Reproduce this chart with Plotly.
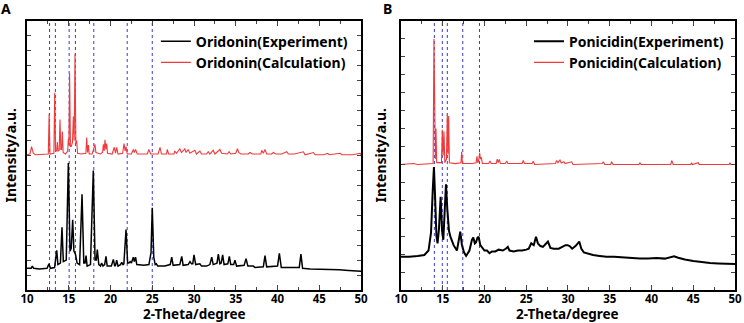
import plotly.graph_objects as go

# ---------------- data ----------------
# Panel A: Oridonin, calculated pattern (offset upward)
ori_calc_x = [10.0, 10.35, 10.55, 10.75, 11.0, 12.0, 12.55, 12.65, 12.75, 13.22, 13.32, 13.42,
              13.55, 13.63, 13.72, 13.86, 13.95, 14.05, 14.15, 14.23, 14.33, 14.6, 14.87, 14.95,
              15.02, 15.1, 15.2, 15.3, 15.45, 15.55, 15.65, 15.75, 15.85, 15.95, 16.05, 16.5,
              17.05, 17.15, 17.25, 17.35, 17.45, 17.8, 18.02, 18.14, 18.25, 18.8, 19.05, 19.14,
              19.24, 19.34, 19.44, 19.54, 19.64, 20.2, 20.45, 20.6, 20.74, 20.9, 21.45, 21.62,
              21.75, 21.86, 22.0, 22.5, 22.73, 22.85, 23.0, 23.2, 24.4, 24.6, 24.8, 25.7, 25.93,
              26.1, 26.7, 26.8, 26.95, 27.6, 27.7, 27.9, 28.3, 28.5, 28.9, 29.05, 29.3, 29.5,
              30.1, 30.3, 30.7, 30.9, 31.5, 31.7, 31.9, 32.3, 32.5, 33.1, 33.3, 34.0, 34.2, 34.4,
              35.0, 35.2, 35.35, 35.6, 36.5, 36.7, 37.0, 38.0, 38.1, 38.3, 38.5, 38.7, 39.3, 39.5,
              39.8, 40.5, 41.1, 41.3, 42.0, 43.1, 43.3, 44.3, 44.5, 45.5, 46.0, 46.2, 47.5, 47.7,
              49.0, 49.9, 50.0]
ori_calc_y = [9.05, 9.1, 9.6, 9.15, 9.05, 9.05, 9.1, 11.8, 9.1, 9.15, 13.2, 9.3,
              9.3, 9.9, 9.3, 9.35, 11.4, 9.4, 9.4, 10.6, 9.2, 9.1, 9.3, 10.1,
              9.7, 14.5, 9.6, 9.6, 9.9, 11.6, 10.0, 15.8, 9.8, 10.0, 9.15, 9.1,
              9.15, 10.2, 9.2, 9.7, 9.1, 9.1, 9.5, 9.75, 9.2, 9.1, 9.2, 9.75,
              9.3, 10.05, 9.4, 9.8, 9.15, 9.1, 9.55, 9.15, 9.55, 9.1, 9.15, 9.8,
              9.3, 9.6, 9.1, 9.1, 9.4, 9.2, 9.4, 9.1, 9.1, 9.4, 9.1, 9.1, 9.55,
              9.1, 9.1, 9.4, 9.1, 9.1, 9.3, 9.15, 9.45, 9.2, 9.45, 9.2, 9.4, 9.15,
              9.35, 9.1, 9.3, 9.1, 9.1, 9.25, 9.1, 9.35, 9.1, 9.4, 9.15, 9.1, 9.25, 9.1,
              9.15, 9.45, 9.2, 9.1, 9.1, 9.2, 9.1, 9.1, 9.35, 9.15, 9.4, 9.1, 9.1, 9.2,
              9.1, 9.1, 9.25, 9.1, 9.1, 9.25, 9.05, 9.2, 9.05, 9.05, 9.15, 9.05, 9.15, 9.05,
              9.05, 9.15, 9.05]

# Panel A: Oridonin, experimental pattern
ori_exp_x = [10.0, 10.5, 10.64, 10.8, 11.5, 12.4, 12.63, 12.8, 13.3, 13.45, 13.56, 13.7, 14.0,
             14.19, 14.35, 14.7, 14.95, 15.15, 15.3, 15.47, 15.62, 15.8, 16.0, 16.3, 16.59, 16.8,
             16.95, 17.07, 17.2, 17.6, 17.94, 18.15, 18.3, 18.42, 18.6, 18.8, 18.94, 19.1, 19.3,
             19.46, 19.6, 20.1, 20.34, 20.5, 20.6, 20.74, 20.9, 21.2, 21.34, 21.5, 21.6, 21.86,
             22.05, 22.2, 22.34, 22.5, 22.62, 22.73, 22.85, 23.0, 23.15, 24.0, 24.6, 24.85, 25.0,
             25.18, 25.35, 25.5, 25.65, 26.5, 27.15, 27.33, 27.5, 28.3, 28.53, 28.7, 29.3, 29.52,
             29.7, 29.85, 30.0, 30.2, 30.7, 30.9, 31.5, 31.9, 32.12, 32.3, 32.75, 32.91, 33.1,
             33.25, 33.43, 33.6, 34.05, 34.23, 34.4, 34.75, 34.9, 35.1, 36.0, 36.23, 36.45, 37.1,
             37.3, 38.3, 38.5, 38.7, 40.0, 40.22, 40.45, 41.4, 42.6, 42.8, 43.0, 43.9, 45.0, 45.4,
             47.4, 48.5, 50.0]
ori_exp_y = [1.45, 1.45, 1.6, 1.45, 1.4, 1.45, 1.75, 1.45, 1.5, 2.0, 2.65, 1.7, 1.8,
             4.2, 1.9, 2.0, 8.5, 2.6, 2.8, 4.7, 2.6, 2.4, 1.8, 1.7, 6.4, 1.8,
             1.8, 2.3, 1.6, 1.7, 8.0, 2.0, 2.0, 2.7, 1.7, 1.6, 1.8, 1.6, 1.7,
             2.25, 1.6, 1.6, 2.05, 1.6, 1.65, 2.0, 1.6, 1.7, 1.85, 1.7, 1.75, 4.05,
             1.8, 1.8, 1.9, 1.8, 2.0, 2.2, 1.9, 2.2, 1.7, 1.65, 1.7, 2.5, 5.5,
             2.2, 1.7, 1.75, 1.6, 1.6, 1.7, 2.2, 1.65, 1.7, 2.25, 1.65, 1.7, 1.9,
             1.75, 1.75, 2.35, 1.7, 1.75, 1.6, 1.6, 1.7, 2.2, 1.7, 1.8, 2.4, 1.75,
             1.8, 2.35, 1.7, 1.75, 2.25, 1.7, 1.7, 2.0, 1.6, 1.65, 2.1, 1.6, 1.6,
             1.5, 1.55, 2.3, 1.55, 1.6, 2.45, 1.5, 1.5, 1.5, 2.4, 1.45, 1.4, 1.4, 1.35,
             1.35, 1.3, 1.25]

# Panel B: Ponicidin, calculated pattern (offset upward)
pon_calc_x = [10.0, 11.0, 11.5, 12.0, 13.85, 13.95, 14.05, 14.12, 14.19, 14.28, 14.85, 14.95,
              15.05, 15.15, 15.25, 15.45, 15.55, 15.63, 15.71, 15.8, 16.5, 17.18, 17.27, 17.36,
              18.5, 19.0, 19.1, 19.2, 19.3, 19.42, 19.52, 19.62, 19.75, 20.5, 20.66, 20.8, 21.4,
              21.53, 21.65, 21.78, 21.9, 22.5, 22.66, 22.8, 24.5, 24.65, 24.8, 25.7, 25.85, 26.0,
              28.5, 28.65, 28.8, 29.04, 29.2, 29.5, 29.65, 30.44, 30.6, 34.1, 34.23, 34.4, 35.1,
              35.23, 35.4, 38.5, 38.6, 38.75, 42.3, 42.42, 42.6, 44.7, 44.8, 44.9, 45.6, 45.7,
              49.3, 49.4, 49.5, 50.0]
pon_calc_y = [7.0, 7.02, 7.05, 7.0, 7.05, 14.0, 7.3, 7.3, 9.0, 7.1, 7.1, 8.93,
              7.5, 8.84, 7.1, 7.3, 9.8, 7.6, 9.7, 7.1, 7.05, 7.1, 7.7, 7.05,
              7.05, 7.1, 7.45, 7.1, 7.2, 7.65, 7.3, 7.4, 7.05, 7.05, 7.2, 7.05, 7.05,
              7.3, 7.1, 7.28, 7.05, 7.05, 7.2, 7.05, 7.05, 7.22, 7.05, 7.05, 7.18, 7.0,
              7.05, 7.22, 7.1, 7.25, 7.08, 7.15, 7.05, 7.15, 7.0, 7.05, 7.15, 7.0, 7.0,
              7.15, 7.0, 7.0, 7.1, 7.0, 7.0, 7.22, 7.0, 7.0, 7.1, 7.0, 7.1, 7.0,
              7.0, 7.1, 7.0, 7.0]

# Panel B: Ponicidin, experimental pattern
pon_exp_x = [10.0, 11.0, 12.0, 12.8, 13.3, 13.6, 13.8, 13.95, 14.1, 14.25, 14.38, 14.55, 14.75,
             14.92, 15.07, 15.22, 15.39, 15.55, 15.75, 15.9, 16.3, 16.7, 16.95, 17.1, 17.3, 17.55,
             17.8, 18.2, 18.5, 18.66, 18.85, 18.98, 19.15, 19.3, 19.5, 19.7, 20.0, 20.3, 20.6,
             20.9, 21.3, 21.7, 22.2, 22.55, 22.8, 23.0, 23.5, 24.0, 24.5, 25.0, 25.3, 25.6, 25.9,
             26.17, 26.4, 26.7, 27.0, 27.3, 27.6, 27.9, 28.3, 28.9, 29.3, 29.7, 29.95, 30.2, 30.5,
             30.9, 31.35, 31.6, 31.9, 32.5, 33.0, 33.8, 34.6, 35.5, 36.6, 37.5, 38.6, 39.6, 40.6,
             41.6, 42.3, 42.7, 43.2, 44.0, 45.0, 46.0, 47.0, 48.0, 49.0, 50.0]
pon_exp_y = [1.85, 1.85, 1.9, 1.95, 2.2, 3.2, 5.5, 6.85, 5.0, 3.0, 2.6, 3.4, 5.2,
             3.3, 2.8, 4.2, 5.9, 4.5, 3.3, 3.0, 2.5, 2.2, 2.8, 3.25, 2.5, 2.1,
             1.9, 2.2, 2.8, 2.93, 2.6, 2.65, 2.9, 2.97, 2.5, 2.4, 2.2, 2.2, 2.05,
             2.15, 2.15, 2.25, 2.2, 2.3, 2.4, 2.2, 2.15, 2.2, 2.2, 2.25, 2.3, 2.6, 2.5,
             2.97, 2.6, 2.45, 2.4, 2.55, 2.7, 2.35, 2.3, 2.3, 2.4, 2.5, 2.5, 2.45, 2.3,
             2.45, 2.7, 2.3, 2.1, 2.0, 1.95, 1.9, 1.85, 1.85, 1.8, 1.8, 1.75, 1.75, 1.78,
             1.75, 1.82, 1.88, 1.8, 1.7, 1.62, 1.55, 1.5, 1.48, 1.45, 1.45]

# reference lines (2-theta positions)
ori_marks = [12.7, 13.4, 15.05, 15.8, 18.0, 22.0, 25.0]
pon_marks = [14.0, 14.95, 15.55, 17.4, 19.4]

x_tick_vals = [10, 15, 20, 25, 30, 35, 40, 45, 50]
x_range = [10, 50]
ori_y_range = [0, 18]
pon_y_range = [0, 15]

# ---------------- figure ----------------
RED = "#f03a3a"
BLACK = "#000000"
BLUE = "#3a3ad0"
FONT = "Noto Sans"

fig = go.Figure()
fig.add_trace(go.Scatter(x=ori_exp_x, y=ori_exp_y, mode="lines", name="Oridonin(Experiment)",
                         line=dict(color=BLACK, width=1.5), xaxis="x", yaxis="y", legend="legend"))
fig.add_trace(go.Scatter(x=ori_calc_x, y=ori_calc_y, mode="lines", name="Oridonin(Calculation)",
                         line=dict(color=RED, width=1.1), xaxis="x", yaxis="y", legend="legend"))
fig.add_trace(go.Scatter(x=pon_exp_x, y=pon_exp_y, mode="lines", name="Ponicidin(Experiment)",
                         line=dict(color=BLACK, width=2.0), xaxis="x2", yaxis="y2", legend="legend2"))
fig.add_trace(go.Scatter(x=pon_calc_x, y=pon_calc_y, mode="lines", name="Ponicidin(Calculation)",
                         line=dict(color=RED, width=1.1), xaxis="x2", yaxis="y2", legend="legend2"))

shapes = []
for m in ori_marks:
    shapes.append(dict(type="line", xref="x", yref="y domain", x0=m, x1=m, y0=0, y1=1,
                       line=dict(color=BLUE, width=1, dash="dot"), layer="below"))
for m in pon_marks:
    shapes.append(dict(type="line", xref="x2", yref="y2 domain", x0=m, x1=m, y0=0, y1=1,
                       line=dict(color=BLUE, width=1, dash="dot"), layer="below"))

xcommon = dict(range=x_range, tickvals=x_tick_vals, ticks="inside", ticklen=5, tickwidth=1.2,
               showline=True, linewidth=1.5, linecolor="black", mirror="ticks",
               showgrid=False, zeroline=False, automargin=False, ticklabelstandoff=-3,
               minor=dict(dtick=2.5, tick0=10, ticks="inside", ticklen=3, tickwidth=1, showgrid=False),
               tickfont=dict(family=FONT, size=11.5, color="black", weight="bold"))
ycommon = dict(dtick=1, tick0=0, ticks="inside", ticklen=4, tickwidth=1.2, showticklabels=False,
               showline=True, linewidth=1.5, linecolor="black", mirror="ticks",
               showgrid=False, zeroline=False, automargin=False)

legend_font = dict(family=FONT, size=14, color="black", weight="bold")
title_font = dict(family=FONT, size=14, color="black", weight="bold")
xtitle_font = dict(family=FONT, size=13.5, color="black", weight="bold")

fig.update_layout(
    width=744, height=323,
    margin=dict(l=27, r=9, t=21, b=33, autoexpand=False),
    paper_bgcolor="white", plot_bgcolor="white",
    xaxis=dict(domain=[0, 0.4718], anchor="y", **xcommon),
    yaxis=dict(domain=[0, 1], anchor="x", range=ori_y_range, **ycommon),
    xaxis2=dict(domain=[0.5282, 1], anchor="y2", **xcommon),
    yaxis2=dict(domain=[0, 1], anchor="x2", range=pon_y_range, **ycommon),
    legend=dict(x=0.182, y=0.983, xanchor="left", yanchor="top", bgcolor="rgba(0,0,0,0)",
                font=legend_font, tracegroupgap=0),
    legend2=dict(x=0.709, y=0.983, xanchor="left", yanchor="top", bgcolor="rgba(0,0,0,0)",
                 font=legend_font, tracegroupgap=0),
    shapes=shapes,
    annotations=[
        dict(text="A", xref="paper", yref="paper", x=-0.0297, y=1.048, xanchor="center",
             yanchor="middle", showarrow=False, font=title_font),
        dict(text="B", xref="paper", yref="paper", x=0.5085, y=1.048, xanchor="center",
             yanchor="middle", showarrow=False, font=title_font),
        dict(text="2-Theta/degree", xref="paper", yref="paper", x=0.2359, y=-0.0874,
             xanchor="center", yanchor="middle", showarrow=False, font=xtitle_font),
        dict(text="2-Theta/degree", xref="paper", yref="paper", x=0.7641, y=-0.0874,
             xanchor="center", yanchor="middle", showarrow=False, font=xtitle_font),
        dict(text="Intensity/a.u.", xref="paper", yref="paper", x=-0.024, y=0.5,
             xanchor="center", yanchor="middle", textangle=-90, showarrow=False, font=title_font),
        dict(text="Intensity/a.u.", xref="paper", yref="paper", x=0.4986, y=0.5,
             xanchor="center", yanchor="middle", textangle=-90, showarrow=False, font=title_font),
    ],
)

fig.write_html("out.html", config={"displayModeBar": False},
               post_script="document.body.style.margin='0';document.body.style.padding='0';")
